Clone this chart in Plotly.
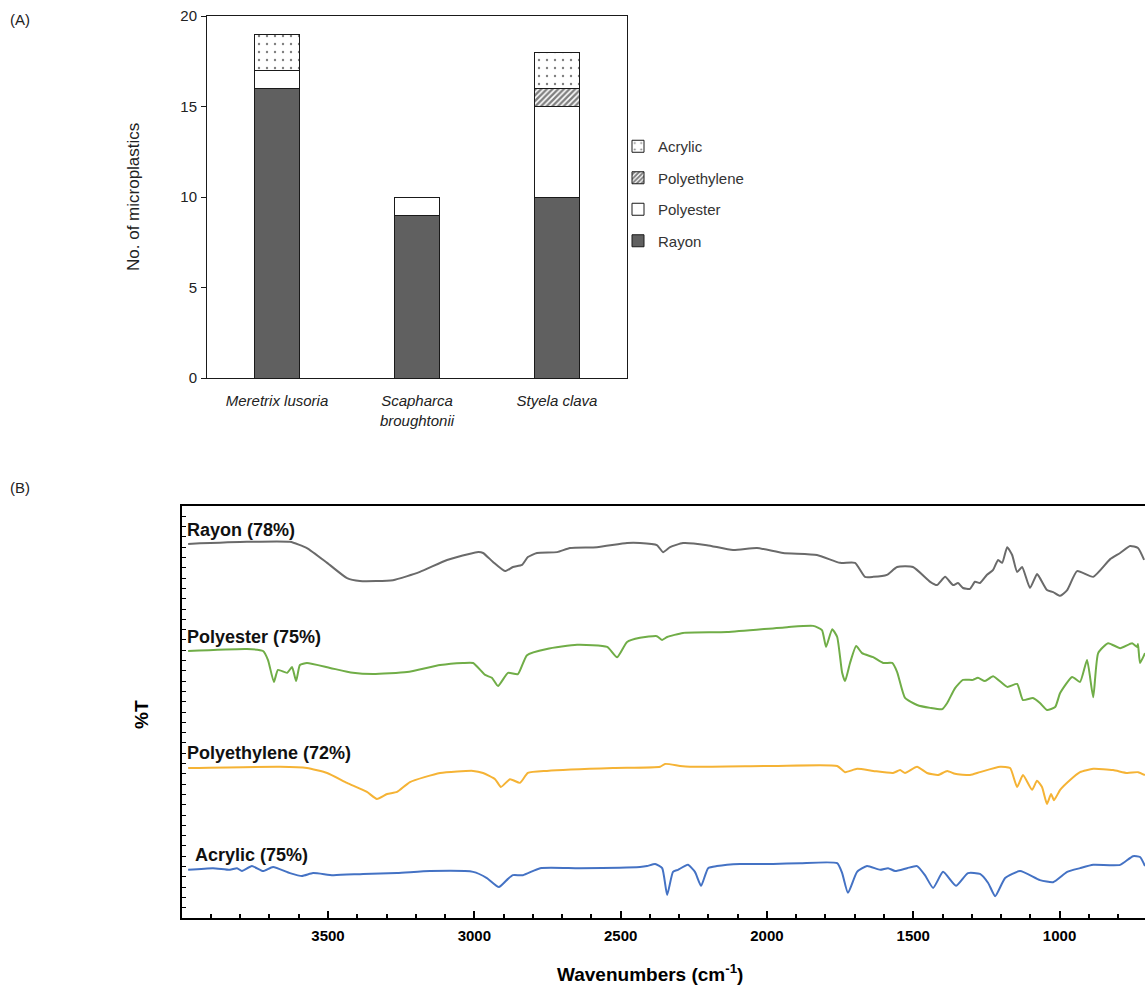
import plotly.graph_objects as go

# ---------------- (A) stacked bars ----------------
species = ["<i>Meretrix lusoria</i>", "<i>Scapharca<br>broughtonii</i>", "<i>Styela clava</i>"]
rayon = [16, 9, 10]
polyester = [1, 1, 5]
polyethylene = [0, 0, 1]
acrylic = [2, 0, 2]

# ---------------- (B) FTIR spectra (arbitrary offset %T units) ----------------
wn_rayon = [3978,3777,3630,3572,3503,3435,3391,3278,3186,3093,2991,2970,2936,2895,2868,2837,2817,2786,2717,2673,
            2581,2478,2434,2376,2355,2331,2287,2205,2116,2034,1945,1829,1750,1699,1665,1637,1590,1555,1501,1442,
            1419,1391,1364,1347,1330,1306,1289,1272,1248,1227,1210,1196,1179,1162,1145,1128,1101,1077,1067,1043,
            1022,998,974,940,885,827,793,759,732,711]
t_rayon = [90.8,91.3,91.3,89.8,86.2,82.5,81.8,82.0,84.0,86.9,88.8,88.6,86.4,84.2,85.2,85.7,87.6,88.6,88.8,89.8,
           90.0,91.0,91.0,90.5,88.8,90.0,91.0,90.5,89.3,89.8,88.6,88.1,86.2,86.2,82.8,82.8,83.3,85.2,85.2,81.6,
           80.8,82.8,80.8,81.3,80.1,79.9,81.6,81.3,83.3,84.5,86.9,86.2,90.0,88.1,84.0,85.2,80.1,83.5,82.5,79.6,
           79.1,78.2,79.6,84.2,82.8,87.1,88.6,90.3,89.8,86.9]

wn_polyester = [3978,3777,3722,3705,3685,3671,3640,3623,3609,3596,3572,3493,3415,3346,3230,3117,3039,3004,2963,2940,
                2919,2885,2851,2820,2752,2649,2546,2512,2478,2434,2376,2358,2341,2287,2136,1931,1842,1812,1798,1777,
                1760,1743,1733,1716,1695,1675,1637,1603,1572,1555,1528,1487,1442,1401,1384,1357,1330,1296,1279,1255,
                1227,1179,1145,1125,1091,1067,1043,1015,998,957,930,906,885,868,834,793,752,735,732,725,708]
t_polyester = [64.8,65.3,64.8,62.6,57.3,60.2,59.5,60.9,57.5,61.4,61.9,60.7,59.5,59.2,59.7,61.4,61.9,61.9,59.0,58.3,
               56.3,59.5,59.2,63.8,65.3,66.3,65.8,63.3,67.0,68.0,68.4,67.5,68.2,69.2,69.4,70.6,70.9,69.9,65.8,70.1,
               68.2,59.5,57.5,61.9,66.0,64.3,63.3,61.9,61.9,59.7,53.4,51.7,51.0,50.7,52.2,55.8,57.8,57.8,58.3,57.5,
               58.7,56.1,56.8,52.9,53.4,52.2,50.5,51.2,54.6,58.5,57.3,62.6,53.6,64.3,66.7,65.5,66.7,65.8,66.5,61.9,64.3]

wn_polyethylene = [3978,3664,3572,3503,3435,3367,3333,3298,3264,3220,3117,3004,2970,2929,2909,2878,2844,2817,2752,2526,
                   2365,2348,2297,2263,1979,1760,1733,1692,1637,1569,1545,1528,1487,1453,1415,1384,1357,1306,1272,1203,
                   1169,1145,1125,1094,1077,1060,1043,1029,1019,998,964,930,885,817,769,732,708]
t_polyethylene = [36.4,36.7,36.4,35.2,32.8,30.6,28.9,30.1,30.6,33.0,35.2,35.7,35.2,33.7,31.8,33.7,32.8,35.2,35.7,36.4,
                  36.7,37.4,36.9,36.7,36.9,36.9,35.4,36.2,35.7,35.2,35.9,35.2,36.7,35.2,34.7,35.7,35.0,34.7,35.4,36.7,
                  36.4,31.8,34.7,31.1,33.3,31.8,27.7,30.1,28.6,31.1,33.5,35.4,36.2,35.9,35.2,35.4,34.7]

wn_acrylic = [3978,3893,3835,3811,3794,3760,3722,3688,3630,3589,3551,3483,3380,3264,3151,3004,2957,2916,2885,2868,
              2834,2775,2639,2434,2410,2382,2358,2341,2321,2304,2270,2246,2225,2201,2171,2092,1979,1887,1760,1743,
              1723,1692,1658,1613,1586,1562,1521,1487,1460,1432,1398,1354,1313,1272,1244,1220,1186,1135,1067,1022,
              974,930,885,793,749,725,708]
t_acrylic = [11.7,12.1,11.7,12.1,11.4,12.6,11.4,12.4,10.9,10.2,10.9,10.4,10.7,10.9,11.4,11.2,9.7,7.5,9.5,10.4,
             10.4,12.1,12.1,12.4,12.6,13.1,12.1,5.6,11.2,11.7,12.9,11.2,7.8,12.1,12.6,13.1,13.1,13.3,13.3,10.9,
             6.1,11.2,12.6,11.7,12.1,11.4,12.1,12.6,10.4,7.3,11.2,7.8,10.9,10.7,8.5,5.3,9.7,11.4,9.2,8.7,
             11.2,12.1,12.9,12.9,15.0,14.8,12.6]

spectra = [
    ("Rayon (78%)", wn_rayon, t_rayon, "#6a6a6a", 3980, 94.2),
    ("Polyester (75%)", wn_polyester, t_polyester, "#70AD47", 3980, 68.3),
    ("Polyethylene (72%)", wn_polyethylene, t_polyethylene, "#F5B335", 3980, 40.0),
    ("Acrylic (75%)", wn_acrylic, t_acrylic, "#4472C4", 3950, 15.3),
]

xticks_major = [3500, 3000, 2500, 2000, 1500, 1000]
xticks_minor = list(range(3900, 700, -100))

fig = go.Figure()

line_style = dict(color="#1a1a1a", width=1)
fig.add_trace(go.Bar(x=species, y=rayon, name="Rayon", width=0.32, legendgroup="r", legendrank=4,
                     marker=dict(color="#606060", line=line_style)))
fig.add_trace(go.Bar(x=species, y=polyester, name="Polyester", width=0.32, legendgroup="p", legendrank=3,
                     marker=dict(color="white", line=line_style)))
fig.add_trace(go.Bar(x=species, y=polyethylene, name="Polyethylene", width=0.32, legendgroup="e", legendrank=2,
                     marker=dict(color="white", line=line_style,
                                 pattern=dict(shape="/", fgcolor="black", bgcolor="white",
                                              size=4, solidity=0.6))))
fig.add_trace(go.Bar(x=species, y=acrylic, name="Acrylic", width=0.32, legendgroup="a", legendrank=1,
                     marker=dict(color="white", line=line_style,
                                 pattern=dict(shape=".", fgcolor="black", bgcolor="white",
                                              size=8, solidity=0.07))))

for name, wn, t, col, lx, ly in spectra:
    fig.add_trace(go.Scatter(x=wn, y=t, mode="lines", xaxis="x2", yaxis="y2", showlegend=False,
                             line=dict(color=col, width=2, shape="spline", smoothing=0.5)))
    fig.add_annotation(x=lx, y=ly, xref="x2", yref="y2", text="<b>%s</b>" % name, showarrow=False,
                       xanchor="left", yanchor="middle", xshift=-3,
                       font=dict(family="Liberation Sans, Arial", size=18, color="#111111"))

W, H = 1145, 988
fig.update_layout(
    width=W, height=H,
    margin=dict(l=0, r=0, t=0, b=0, autoexpand=False),
    paper_bgcolor="white", plot_bgcolor="white",
    barmode="stack",
    font=dict(family="Liberation Sans, Arial", size=15, color="#222222"),
    legend=dict(x=618 / W, y=1 - 130 / H, xanchor="left", yanchor="top",
                traceorder="grouped", tracegroupgap=9,
                font=dict(size=15, color="#333333"), itemwidth=30,
                bgcolor="rgba(0,0,0,0)"),
    xaxis=dict(domain=[207 / W, 627 / W], anchor="y", automargin=False,
               showline=True, linecolor="#1a1a1a", linewidth=1, mirror=True,
               ticks="", ticklabelstandoff=9, tickfont=dict(size=15, color="#222222")),
    yaxis=dict(domain=[1 - 378 / H, 1 - 16 / H], anchor="x", range=[0, 20], dtick=5, automargin=False,
               showline=True, linecolor="#1a1a1a", linewidth=1, mirror=True,
               ticks="outside", ticklen=5, tickcolor="#1a1a1a", showgrid=False, zeroline=False,
               ticklabelstandoff=1, tickfont=dict(size=15, color="#222222")),
    xaxis2=dict(domain=[181.7 / W, 1.0], anchor="y2", range=[4000, 708], automargin=False,
                showline=True, linecolor="black", linewidth=2, mirror=True,
                tickmode="array", tickvals=xticks_major,
                ticks="inside", ticklen=7, tickwidth=2, tickcolor="black",
                minor=dict(tickmode="array", tickvals=xticks_minor, ticks="inside",
                           ticklen=4, tickwidth=1.5, tickcolor="black"),
                showgrid=False, zeroline=False, ticklabelstandoff=3,
                tickfont=dict(family="Liberation Sans, Arial", size=15, color="black", weight="bold")),
    yaxis2=dict(domain=[1 - 918 / H, 1 - 506 / H], anchor="x2", range=[0, 100], automargin=False,
                showline=True, linecolor="black", linewidth=2, mirror=True,
                tickmode="linear", tick0=0, dtick=2.5, ticks="inside", ticklen=4,
                tickcolor="black", showticklabels=False, showgrid=False, zeroline=False),
    annotations=list(fig.layout.annotations) + [
        dict(x=8 / W, y=1 - 20 / H, xref="paper", yref="paper", text="(A)", showarrow=False,
             xanchor="left", yanchor="middle", font=dict(size=15, color="#222222")),
        dict(x=8 / W, y=1 - 487 / H, xref="paper", yref="paper", text="(B)", showarrow=False,
             xanchor="left", yanchor="middle", font=dict(size=15, color="#222222")),
        dict(x=133 / W, y=1 - 197 / H, xref="paper", yref="paper", text="No. of microplastics",
             showarrow=False, textangle=-90, xanchor="center", yanchor="middle",
             font=dict(size=17, color="#222222")),
        dict(x=141 / W, y=1 - 715 / H, xref="paper", yref="paper", text="<b>%T</b>", showarrow=False,
             textangle=-90, xanchor="center", yanchor="middle", font=dict(size=19, color="black")),
        dict(x=650 / W, y=1 - 973 / H, xref="paper", yref="paper",
             text="<b>Wavenumbers (cm<sup>-1</sup>)</b>", showarrow=False,
             xanchor="center", yanchor="middle", font=dict(size=19, color="black")),
    ],
)

fig.write_html("out.html", config={"displayModeBar": False},
               post_script="document.body.style.margin='0';")
